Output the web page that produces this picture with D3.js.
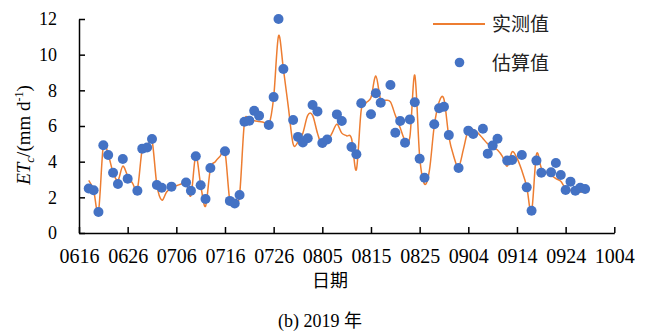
<!DOCTYPE html>
<html>
<head>
<meta charset="utf-8">
<script src="https://cdn.jsdelivr.net/npm/d3@7/dist/d3.min.js"></script>
<style>
  html, body { margin: 0; padding: 0; background: #fff; }
  svg { display: block; }
</style>
</head>
<body>
<svg id="chart"></svg>
<script>
// x axis tick labels (MMDD, 2019)
const tickLabels = ["0616", "0626", "0706", "0716", "0726", "0805", "0815", "0825", "0904", "0914", "0924", "1004"];
const yTicks = [0, 2, 4, 6, 8, 10, 12];

// measured ET (daily, 0618 .. 0928)
const measuredStart = "0618";
const measuredValues = [
  2.95, 2.4, 1.2, 4.9, 4.4, 3.4, 2.95, 3.75, 3.2,
  2.8, 2.45, 4.7, 4.8, 5.2, 2.7, 1.85, 2.3, 2.55, 2.65,
  2.75, 2.85, 2.1, 4.35, 2.7, 1.5, 3.6, 4.0, 4.3, 4.55,
  1.8, 1.65, 2.15, 6.2, 6.3, 6.3, 6.25, 6.2, 6.05, 7.6,
  11.05, 9.2, 7.1, 5.0, 5.1, 5.6, 6.6, 6.6, 5.6, 4.85,
  5.1, 5.6, 6.1, 5.6, 5.45, 5.3, 3.55, 6.9, 7.3, 7.6,
  8.8, 7.45, 7.45, 7.35, 6.6, 5.9, 5.2, 5.4, 8.85, 4.3,
  2.75, 3.5, 6.0, 7.35, 7.5, 5.4, 4.3, 3.7, 4.7, 5.8,
  5.8, 5.6, 5.3, 5.0, 4.85, 4.65, 4.3, 3.75, 4.55, 4.2,
  3.5, 2.6, 1.2, 4.4, 3.65, 3.4, 3.25, 3.05, 2.9, 2.5,
  2.4, 2.25, 2.3, 2.3
];

// estimated ET
const estimatedDates = [
  "0618", "0619", "0620", "0621", "0622", "0623", "0624", "0625", "0626", "0628",
  "0629", "0630", "0701", "0702", "0703", "0705", "0708", "0709", "0710", "0711",
  "0712", "0713", "0716", "0717", "0718", "0719", "0720", "0721", "0722", "0723",
  "0725", "0726", "0727", "0728", "0730", "0731", "0801", "0802", "0803", "0804",
  "0805", "0806", "0808", "0809", "0811", "0812", "0813", "0815", "0816", "0817",
  "0819", "0820", "0821", "0822", "0823", "0824", "0825", "0826", "0828", "0829",
  "0830", "0831", "0902", "0904", "0905", "0907", "0908", "0909", "0910", "0912",
  "0913", "0915", "0916", "0917", "0918", "0919", "0921", "0922", "0923", "0924",
  "0925", "0926", "0927", "0928"
];
const estimatedValues = [
  2.5, 2.4, 1.18, 4.92, 4.37, 3.38, 2.75, 4.15, 3.04, 2.37,
  4.73, 4.79, 5.27, 2.69, 2.54, 2.6, 2.83, 2.37, 4.3, 2.68,
  1.91, 3.64, 4.58, 1.8, 1.65, 2.13, 6.24, 6.3, 6.85, 6.58,
  6.06, 7.62, 12.0, 9.2, 6.34, 5.39, 5.07, 5.31, 7.18, 6.82,
  5.05, 5.24, 6.65, 6.28, 4.82, 4.42, 7.28, 6.66, 7.84, 7.3,
  8.3, 5.62, 6.28, 5.06, 6.37, 7.33, 4.16, 3.1, 6.1, 7.0,
  7.08, 5.49, 3.64, 5.74, 5.55, 5.85, 4.45, 4.9, 5.29, 4.06,
  4.09, 4.37, 2.56, 1.25, 4.06, 3.38, 3.4, 3.93, 3.25, 2.41,
  2.88, 2.37, 2.54, 2.47
];

const width = 646;
const height = 331;
const serif = "'Liberation Serif', 'Times New Roman', serif";
const cjk = "'Noto Sans CJK SC', sans-serif";
const orange = "#ED7D31";
const blue = "#4472C4";

const parse = s => d3.timeParse("%Y%m%d")("2019" + s);

const measured = measuredValues.map((v, i) => ({ date: d3.timeDay.offset(parse(measuredStart), i), value: v }));
const estimated = estimatedDates.map((d, i) => ({ date: parse(d), value: estimatedValues[i] }));

const svg = d3.select("#chart")
  .attr("width", width)
  .attr("height", height);

svg.append("rect").attr("width", width).attr("height", height).attr("fill", "#fff");

const x = d3.scaleTime()
  .domain([parse(tickLabels[0]), parse(tickLabels[tickLabels.length - 1])])
  .range([79, 614.3]);

const y = d3.scaleLinear()
  .domain([0, 12])
  .range([233, 19]);

// axes
const xAxis = svg.append("g")
  .attr("transform", `translate(0,${y(0)})`)
  .call(d3.axisBottom(x)
    .tickValues(tickLabels.map(parse))
    .tickFormat(d3.timeFormat("%m%d"))
    .tickSizeInner(-6)
    .tickSizeOuter(0)
    .tickPadding(16));
xAxis.attr("font-family", serif).attr("font-size", 20);
xAxis.selectAll("text").attr("fill", "#000");

const yAxis = svg.append("g")
  .attr("transform", `translate(${x.range()[0]},0)`)
  .call(d3.axisLeft(y)
    .tickValues(yTicks)
    .tickSizeInner(-6)
    .tickSizeOuter(0)
    .tickPadding(22));
yAxis.attr("font-family", serif).attr("font-size", 18);
yAxis.selectAll("text").attr("fill", "#000").attr("dy", "0.33em");

svg.selectAll(".domain, .tick line")
  .attr("stroke", "#000")
  .attr("stroke-width", 1.5);

// measured line
const line = d3.line()
  .x(d => x(d.date))
  .y(d => y(d.value))
  .curve(d3.curveCatmullRom.alpha(0));

svg.append("path")
  .datum(measured)
  .attr("d", line)
  .attr("fill", "none")
  .attr("stroke", orange)
  .attr("stroke-width", 1.5);

// estimated points
svg.selectAll("circle.est")
  .data(estimated)
  .enter()
  .append("circle")
  .attr("class", "est")
  .attr("cx", d => x(d.date))
  .attr("cy", d => y(d.value))
  .attr("r", 5)
  .attr("fill", blue);

// legend
svg.append("line")
  .attr("x1", 433).attr("x2", 485)
  .attr("y1", 24).attr("y2", 24)
  .attr("stroke", orange)
  .attr("stroke-width", 2);
svg.append("text")
  .attr("x", 492).attr("y", 31)
  .attr("font-family", cjk).attr("font-size", 19)
  .attr("fill", "#222")
  .text("实测值");
svg.append("circle")
  .attr("cx", 459.5).attr("cy", 62.5).attr("r", 4.8)
  .attr("fill", blue);
svg.append("text")
  .attr("x", 492).attr("y", 69.5)
  .attr("font-family", cjk).attr("font-size", 19)
  .attr("fill", "#222")
  .text("估算值");

// axis titles
const yTitle = svg.append("text")
  .attr("transform", "translate(30,135) rotate(-90)")
  .attr("text-anchor", "middle")
  .attr("font-family", serif)
  .attr("font-size", 19)
  .attr("fill", "#000");
yTitle.append("tspan").attr("font-style", "italic").text("ET");
yTitle.append("tspan").attr("font-style", "italic").attr("font-size", 13).attr("dy", 4).text("c");
yTitle.append("tspan").attr("dy", -4).text("/(mm d");
yTitle.append("tspan").attr("font-size", 12).attr("dy", -7).text("-1");
yTitle.append("tspan").attr("dy", 7).text(")");

svg.append("text")
  .attr("x", 330).attr("y", 287)
  .attr("text-anchor", "middle")
  .attr("font-family", cjk).attr("font-size", 18)
  .attr("fill", "#000")
  .text("日期");

const caption = svg.append("text")
  .attr("x", 320).attr("y", 327)
  .attr("text-anchor", "middle")
  .attr("font-family", serif).attr("font-size", 18)
  .attr("fill", "#000");
caption.append("tspan").text("(b) 2019 ");
caption.append("tspan").attr("font-family", cjk).text("年");
</script>
</body>
</html>
